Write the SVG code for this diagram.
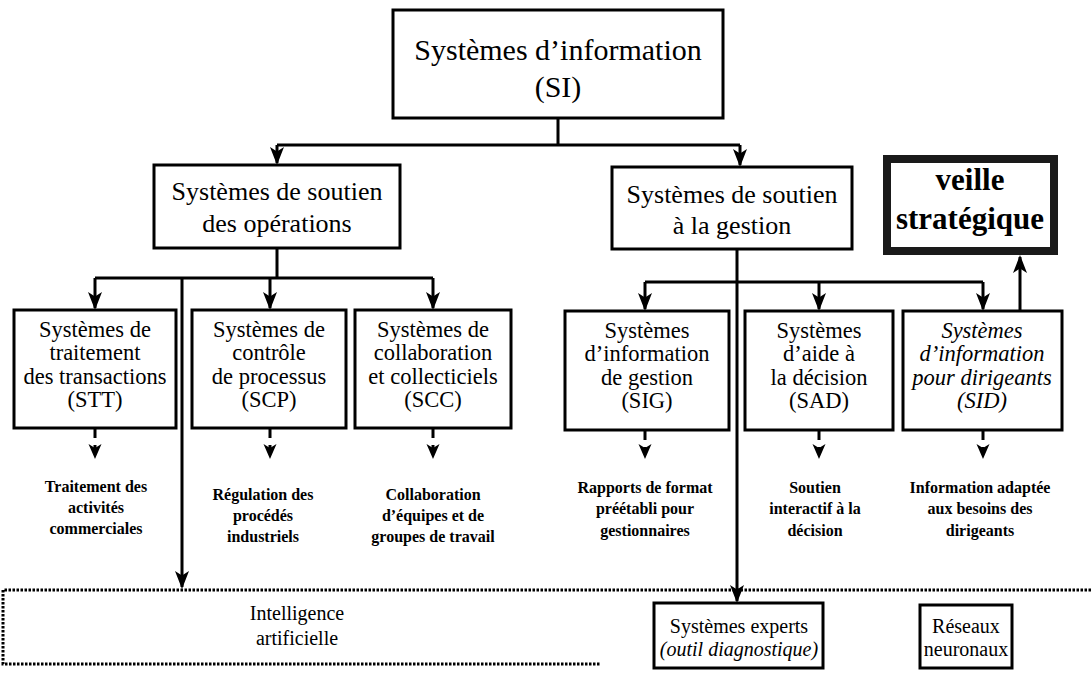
<svg xmlns="http://www.w3.org/2000/svg" width="1091" height="675" viewBox="0 0 1091 675">
<style>
text{font-family:"Liberation Serif","Times New Roman",serif;fill:#000;text-anchor:middle}
.box{fill:#fff;stroke:#000;stroke-width:3}
.t30{font-size:30px}
.t26{font-size:26px}
.t21{font-size:22.5px}
.t20{font-size:20px}
.d{font-size:16px;font-weight:bold}
.it{font-style:italic}
.b{font-weight:bold}
.c{fill:none;stroke:#000;stroke-width:3}
.dash{fill:none;stroke:#000;stroke-width:3;stroke-dasharray:10 7}
.dot{fill:none;stroke:#000;stroke-width:3;stroke-dasharray:2.5 1.5}
</style>
<defs>
<marker id="arr" viewBox="0 -7 18 14" refX="16" refY="0" markerWidth="18" markerHeight="14" markerUnits="userSpaceOnUse" orient="auto"><path d="M0,-7 L18,0 L0,7 L4.5,0 Z" fill="#000"/></marker>
<marker id="arrS" viewBox="0 -7 15 14" refX="8" refY="0" markerWidth="15" markerHeight="14" markerUnits="userSpaceOnUse" orient="auto"><path d="M0,-6.5 L15,0 L0,6.5 L4,0 Z" fill="#000"/></marker>
</defs>

<g id="ai-zone">
<path class="dot" d="M1091,590 H3 V664 H600"/>
<text class="t20" x="297" y="620">Intelligence</text>
<text class="t20" x="297" y="645">artificielle</text>
</g>

<g id="connectors">
<path class="c" d="M558,118 V145 M277,145 H740"/>
<path class="c" d="M277,145 V163" marker-end="url(#arr)"/>
<path class="c" d="M740,145 V165" marker-end="url(#arr)"/>
<path class="c" d="M277,248 V278 M95,278 H433"/>
<path class="c" d="M95,278 V308" marker-end="url(#arr)"/>
<path class="c" d="M270,278 V308" marker-end="url(#arr)"/>
<path class="c" d="M433,278 V308" marker-end="url(#arr)"/>
<path class="c" d="M182,278 V587" marker-end="url(#arr)"/>
<path class="c" d="M737,249 V601" marker-end="url(#arr)"/>
<path class="c" d="M645,282 H983"/>
<path class="c" d="M645,282 V309" marker-end="url(#arr)"/>
<path class="c" d="M819,282 V309" marker-end="url(#arr)"/>
<path class="c" d="M983,282 V309" marker-end="url(#arr)"/>
<path class="c" d="M1020,311 V257" marker-end="url(#arr)"/>
<path class="dash" d="M95,428 V452" marker-end="url(#arrS)"/>
<path class="dash" d="M270,428 V452" marker-end="url(#arrS)"/>
<path class="dash" d="M433,428 V452" marker-end="url(#arrS)"/>
<path class="dash" d="M645,430 V452" marker-end="url(#arrS)"/>
<path class="dash" d="M819,430 V452" marker-end="url(#arrS)"/>
<path class="dash" d="M983,430 V452" marker-end="url(#arrS)"/>
</g>

<g id="si">
<rect class="box" x="393" y="10" width="330" height="108"/>
<text class="t30" x="558" y="60">Systèmes d’information</text>
<text class="t30" x="558" y="97">(SI)</text>
</g>

<g id="sso">
<rect class="box" x="154" y="165" width="246" height="83"/>
<text class="t26" x="277" y="200">Systèmes de soutien</text>
<text class="t26" x="277" y="232">des opérations</text>
</g>

<g id="ssg">
<rect class="box" x="612" y="167" width="240" height="82"/>
<text class="t26" x="732" y="203">Systèmes de soutien</text>
<text class="t26" x="732" y="234">à la gestion</text>
</g>

<g id="veille">
<rect x="887" y="159" width="167" height="92" fill="#fff" stroke="#1a1a1a" stroke-width="8"/>
<text class="b" font-size="31" x="970" y="190">veille</text>
<text class="b" font-size="31" x="970" y="229">stratégique</text>
</g>

<g id="stt">
<rect class="box" x="14" y="310" width="162" height="118"/>
<text class="t21" x="95" y="337">Systèmes de</text>
<text class="t21" x="95" y="360">traitement</text>
<text class="t21" x="95" y="384">des transactions</text>
<text class="t21" x="95" y="407">(STT)</text>
</g>

<g id="scp">
<rect class="box" x="192" y="310" width="154" height="118"/>
<text class="t21" x="269" y="337">Systèmes de</text>
<text class="t21" x="269" y="360">contrôle</text>
<text class="t21" x="269" y="384">de processus</text>
<text class="t21" x="269" y="407">(SCP)</text>
</g>

<g id="scc">
<rect class="box" x="355" y="310" width="156" height="118"/>
<text class="t21" x="433" y="337">Systèmes de</text>
<text class="t21" x="433" y="360">collaboration</text>
<text class="t21" x="433" y="384">et collecticiels</text>
<text class="t21" x="433" y="407">(SCC)</text>
</g>

<g id="sig">
<rect class="box" x="565" y="311" width="164" height="119"/>
<text class="t21" x="647" y="338">Systèmes</text>
<text class="t21" x="647" y="361">d’information</text>
<text class="t21" x="647" y="385">de gestion</text>
<text class="t21" x="647" y="408">(SIG)</text>
</g>

<g id="sad">
<rect class="box" x="745" y="311" width="148" height="119"/>
<text class="t21" x="819" y="338">Systèmes</text>
<text class="t21" x="819" y="361">d’aide à</text>
<text class="t21" x="819" y="385">la décision</text>
<text class="t21" x="819" y="408">(SAD)</text>
</g>

<g id="sid">
<rect class="box" x="903" y="311" width="159" height="119"/>
<text class="t21 it" x="982" y="338">Systèmes</text>
<text class="t21 it" x="982" y="361">d’information</text>
<text class="t21 it" x="982" y="385">pour dirigeants</text>
<text class="t21 it" x="982" y="408">(SID)</text>
</g>

<g id="desc-stt">
<text class="d" x="96" y="492">Traitement des</text>
<text class="d" x="96" y="513">activités</text>
<text class="d" x="96" y="534">commerciales</text>
</g>
<g id="desc-scp">
<text class="d" x="263" y="500">Régulation des</text>
<text class="d" x="263" y="521">procédés</text>
<text class="d" x="263" y="542">industriels</text>
</g>
<g id="desc-scc">
<text class="d" x="433" y="500">Collaboration</text>
<text class="d" x="433" y="521">d’équipes et de</text>
<text class="d" x="433" y="542">groupes de travail</text>
</g>
<g id="desc-sig">
<text class="d" x="645" y="493">Rapports de format</text>
<text class="d" x="645" y="514">préétabli pour</text>
<text class="d" x="645" y="536">gestionnaires</text>
</g>
<g id="desc-sad">
<text class="d" x="815" y="493">Soutien</text>
<text class="d" x="815" y="514">interactif à la</text>
<text class="d" x="815" y="536">décision</text>
</g>
<g id="desc-sid">
<text class="d" x="980" y="493">Information adaptée</text>
<text class="d" x="980" y="514">aux besoins des</text>
<text class="d" x="980" y="536">dirigeants</text>
</g>

<g id="experts">
<rect class="box" x="654" y="603" width="169" height="65"/>
<text class="t20" x="739" y="633">Systèmes experts</text>
<text class="t20 it" x="739" y="656">(outil diagnostique)</text>
</g>

<g id="reseaux">
<rect class="box" x="920" y="605" width="92" height="63"/>
<text class="t20" x="966" y="633">Réseaux</text>
<text class="t20" x="966" y="656">neuronaux</text>
</g>
</svg>
